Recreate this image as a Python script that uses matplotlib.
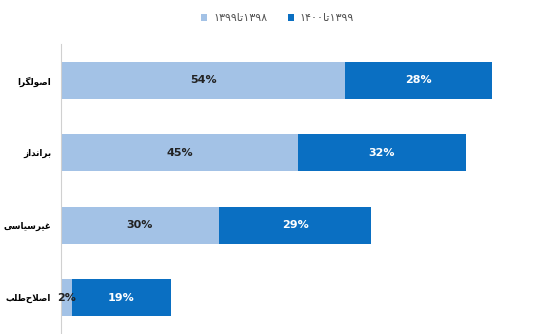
import matplotlib
matplotlib.use("Agg")
import matplotlib.pyplot as plt

# داده ها
categories = ["اصولگرا", "برانداز", "غیرسیاسی", "اصلاح‌طلب"]
series_names = ["۱۳۹۸تا۱۳۹۹", "۱۳۹۹تا۱۴۰۰"]
v_9899 = [54, 45, 30, 2]
v_9900 = [28, 32, 29, 19]

colors = ["#a3c2e6", "#0a6fc2"]

################################   شکل دهی حروف  ###########################################

# (isolated, final, initial, medial)
FORMS = {
    "ا": ("\uFE8D", "\uFE8E", None, None),
    "ب": ("\uFE8F", "\uFE90", "\uFE91", "\uFE92"),
    "ت": ("\uFE95", "\uFE96", "\uFE97", "\uFE98"),
    "ح": ("\uFEA1", "\uFEA2", "\uFEA3", "\uFEA4"),
    "د": ("\uFEA9", "\uFEAA", None, None),
    "ر": ("\uFEAD", "\uFEAE", None, None),
    "ز": ("\uFEAF", "\uFEB0", None, None),
    "س": ("\uFEB1", "\uFEB2", "\uFEB3", "\uFEB4"),
    "ص": ("\uFEB9", "\uFEBA", "\uFEBB", "\uFEBC"),
    "ط": ("\uFEC1", "\uFEC2", "\uFEC3", "\uFEC4"),
    "غ": ("\uFECD", "\uFECE", "\uFECF", "\uFED0"),
    "ل": ("\uFEDD", "\uFEDE", "\uFEDF", "\uFEE0"),
    "ن": ("\uFEE5", "\uFEE6", "\uFEE7", "\uFEE8"),
    "و": ("\uFEED", "\uFEEE", None, None),
    "ی": ("\uFBFC", "\uFBFD", "\uFBFE", "\uFBFF"),
    "گ": ("\uFB92", "\uFB93", "\uFB94", "\uFB95"),
}


def shape(text):
    chars = [c for c in text]
    out = []
    i = 0
    while i < len(chars):
        c = chars[i]
        if c not in FORMS:
            out.append(c)
            i += 1
            continue
        prev = chars[i - 1] if i > 0 else None
        joins_prev = prev in FORMS and FORMS[prev][2] is not None
        # لا
        if c == "ل" and i + 1 < len(chars) and chars[i + 1] == "ا":
            out.append("\uFEFC" if joins_prev else "\uFEFB")
            i += 2
            continue
        nxt = chars[i + 1] if i + 1 < len(chars) else None
        joins_next = FORMS[c][2] is not None and nxt in FORMS
        iso, fin, ini, med = FORMS[c]
        if joins_prev and joins_next:
            out.append(med)
        elif joins_prev:
            out.append(fin)
        elif joins_next:
            out.append(ini)
        else:
            out.append(iso)
        i += 1
    # راست به چپ
    return "".join(out).replace("\u200c", "")[::-1]


def shape_legend(text):
    a, b = text.split("تا")
    return b + shape("تا") + a


################################   نمودار  ###########################################

plt.rcParams["font.family"] = ["DejaVu Sans"]

fig = plt.figure(figsize=(5.5, 3.34), dpi=100)
ax = fig.add_axes([0.111, 0.0, 0.87, 0.868])

y = list(range(len(categories)))
b1 = ax.barh(y, v_9899, height=0.51, color=colors[0], label=shape_legend(series_names[0]))
b2 = ax.barh(y, v_9900, left=v_9899, height=0.51, color=colors[1], label=shape_legend(series_names[1]))

for i in y:
    ax.text(v_9899[i] / 2, i, f"{v_9899[i]}%", ha="center", va="center",
            fontsize=8, fontweight="bold", color="#222222")
    ax.text(v_9899[i] + v_9900[i] / 2, i, f"{v_9900[i]}%", ha="center", va="center",
            fontsize=8, fontweight="bold", color="white")

ax.set_ylim(len(categories) - 0.5, -0.5)
ax.set_xlim(0, 91)
ax.set_yticks(y)
ax.set_yticklabels([shape(c) for c in categories], fontsize=6.3, fontweight="bold")
ax.tick_params(axis="y", length=0, pad=7)
ax.set_xticks([])

for s in ["top", "right", "bottom"]:
    ax.spines[s].set_visible(False)
ax.spines["left"].set_color("#d0d0d0")

fig.legend(loc="upper center", bbox_to_anchor=(0.505, 0.99), ncol=2, frameon=False,
           fontsize=8, handlelength=0.55, handleheight=0.55, columnspacing=1.9,
           handletextpad=0.5, labelcolor="#555555")

fig.savefig("out.png", dpi=100)
